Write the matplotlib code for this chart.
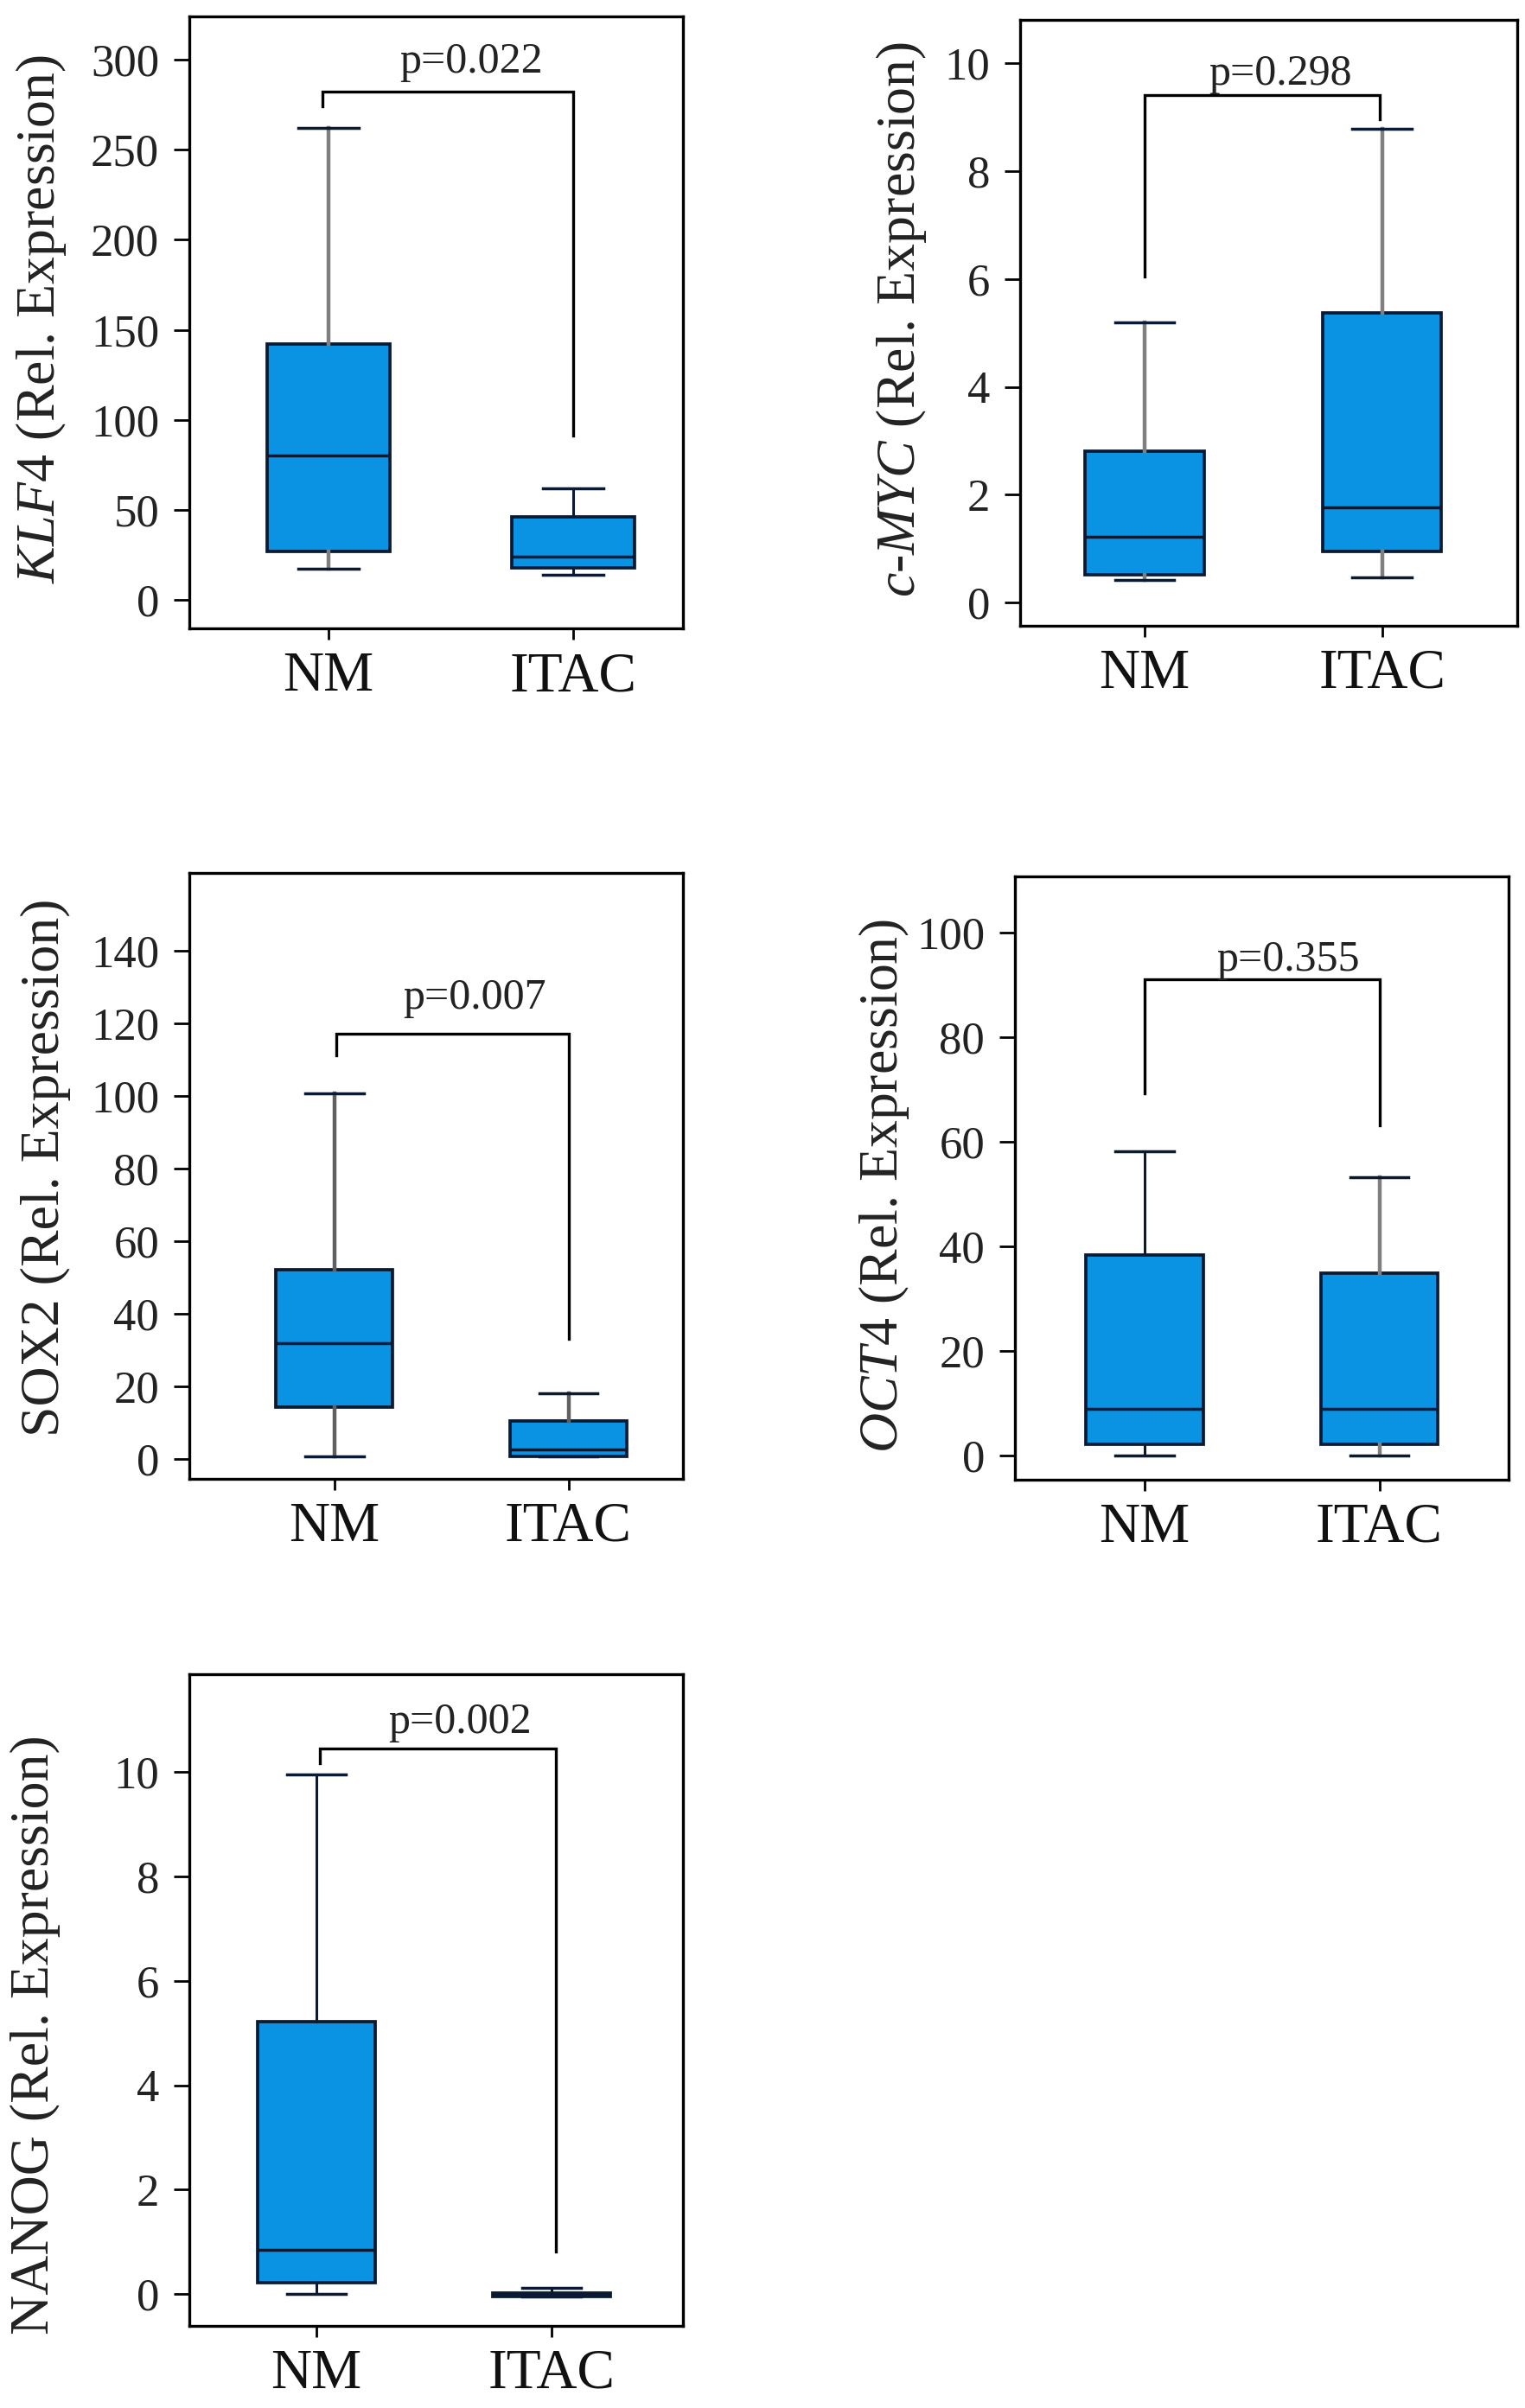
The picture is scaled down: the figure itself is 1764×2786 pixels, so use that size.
import matplotlib
matplotlib.use('Agg')
import matplotlib.pyplot as plt

plt.rcParams['font.family'] = ['Liberation Serif', 'DejaVu Serif']
plt.rcParams['mathtext.fontset'] = 'custom'
plt.rcParams['mathtext.rm'] = 'Liberation Serif'
plt.rcParams['mathtext.it'] = 'Liberation Serif:italic'

groups = ['NM', 'ITAC']

# five-number summaries: [whislo, q1, med, q3, whishi]
klf4_nm = [17, 27, 80, 142, 262]
klf4_itac = [14, 17.5, 24, 46, 62]
cmyc_nm = [0.42, 0.52, 1.22, 2.81, 5.2]
cmyc_itac = [0.47, 0.95, 1.76, 5.37, 8.79]
sox2_nm = [0.6, 14.2, 31.8, 52, 100.5]
sox2_itac = [0.5, 0.6, 2.6, 10.3, 18]
oct4_nm = [0, 2.2, 9.0, 38.4, 58.2]
oct4_itac = [0, 2.2, 9.0, 35.0, 53.2]
nanog_nm = [0, 0.21, 0.84, 5.22, 9.95]
nanog_itac = [-0.04, -0.04, 0.0, 0.02, 0.12]

p_values = ['p=0.022', 'p=0.298', 'p=0.007', 'p=0.355', 'p=0.002']

# bracket: [left leg bottom, top, right leg bottom]
klf4_bracket = [274, 282.5, 91]
cmyc_bracket = [6.04, 9.42, 8.96]
sox2_bracket = [111, 117, 33]
oct4_bracket = [69.2, 91.1, 63.1]
nanog_bracket = [10.17, 10.44, 0.81]

klf4_ticks = [0, 50, 100, 150, 200, 250, 300]
cmyc_ticks = [0, 2, 4, 6, 8, 10]
sox2_ticks = [0, 20, 40, 60, 80, 100, 120, 140]
oct4_ticks = [0, 20, 40, 60, 80, 100]
nanog_ticks = [0, 2, 4, 6, 8, 10]

box_color = '#0a93e2'
edge_color = '#0b1a33'
gray = '#7f7f7f'

panels = [
    dict(nm=klf4_nm, itac=klf4_itac, ticks=klf4_ticks, bracket=klf4_bracket, p=p_values[0],
         label=r'$\mathit{KLF4}$ (Rel. Expression)', rect=[0.124, 0.739, 0.324, 0.2541],
         ylim=(-16, 324), xlim=(0.43, 2.45), lab=(-0.245, 0.506), ptxt=(1.585, 293),
         wcol=[gray, edge_color], bx=[0.976, 2.0]),
    dict(nm=cmyc_nm, itac=cmyc_itac, ticks=cmyc_ticks, bracket=cmyc_bracket, p=p_values[1],
         label=r'$\mathit{c}$-$\mathit{MYC}$ (Rel. Expression)', rect=[0.669, 0.7401, 0.326, 0.2517],
         ylim=(-0.43, 10.81), xlim=(0.476, 2.57), lab=(-0.184, 0.505), ptxt=(1.57, 9.61),
         wcol=[gray, gray], bx=[1.0, 1.99]),
    dict(nm=sox2_nm, itac=sox2_itac, ticks=sox2_ticks, bracket=sox2_bracket, p=p_values[2],
         label='SOX2 (Rel. Expression)', rect=[0.124, 0.3859, 0.324, 0.2517],
         ylim=(-5.55, 161.4), xlim=(0.38, 2.49), lab=(-0.24, 0.513), ptxt=(1.6, 124),
         wcol=['#606060', '#606060'], bx=[1.01, 2.0]),
    dict(nm=oct4_nm, itac=oct4_itac, ticks=oct4_ticks, bracket=oct4_bracket, p=p_values[3],
         label=r'$\mathit{OCT4}$ (Rel. Expression)', rect=[0.6655, 0.3856, 0.3237, 0.2506],
         ylim=(-4.5, 110.8), xlim=(0.448, 2.55), lab=(-0.21, 0.487), ptxt=(1.61, 92.7),
         wcol=[edge_color, gray], bx=[1.0, 2.0]),
    dict(nm=nanog_nm, itac=nanog_itac, ticks=nanog_ticks, bracket=nanog_bracket, p=p_values[4],
         label='NANOG (Rel. Expression)', rect=[0.124, 0.0341, 0.324, 0.2706],
         ylim=(-0.61, 11.87), xlim=(0.459, 2.56), lab=(-0.26, 0.447), ptxt=(1.61, 10.75),
         wcol=[edge_color, edge_color], bx=[1.015, 2.02]),
]

fig = plt.figure(figsize=(17.64, 27.86), dpi=100)

for pn in panels:
    ax = fig.add_axes(pn['rect'])
    stats = []
    for name, v in zip(groups, [pn['nm'], pn['itac']]):
        stats.append(dict(label=name, whislo=v[0], q1=v[1], med=v[2], q3=v[3], whishi=v[4], fliers=[]))
    res = ax.bxp(stats, positions=[1, 2], widths=0.5, capwidths=0.25, patch_artist=True,
                 showfliers=False,
                 boxprops=dict(facecolor=box_color, edgecolor=edge_color, linewidth=2.7),
                 whiskerprops=dict(color=gray, linewidth=3.2),
                 capprops=dict(color=edge_color, linewidth=2.5),
                 medianprops=dict(color=edge_color, linewidth=2.5))
    for i, c in enumerate(pn['wcol']):
        for w in res['whiskers'][2 * i:2 * i + 2]:
            w.set_color(c)
            if c == edge_color:
                w.set_linewidth(2.2)

    b = pn['bracket']
    ax.plot([pn['bx'][0], pn['bx'][0], pn['bx'][1], pn['bx'][1]], [b[0], b[1], b[1], b[2]],
            color='black', linewidth=2.4, solid_joinstyle='miter')
    ax.text(pn['ptxt'][0], pn['ptxt'][1], pn['p'], ha='center', va='baseline',
            fontsize=36, color='#222222')

    ax.set_xlim(pn['xlim'])
    ax.set_ylim(pn['ylim'])
    ax.set_yticks(pn['ticks'])
    ax.set_xticks([1, 2])
    ax.set_xticklabels(groups)
    ax.tick_params(axis='y', direction='out', length=13, width=2, labelsize=38,
                   pad=12, labelcolor='#222222')
    ax.tick_params(axis='x', direction='out', length=9, width=2, labelsize=47,
                   pad=10, labelcolor='#111111')
    for s in ax.spines.values():
        s.set_linewidth(2.4)
    ax.set_ylabel(pn['label'], fontsize=46, color='#222222')
    ax.yaxis.set_label_coords(pn['lab'][0], pn['lab'][1])

fig.savefig('out.png', dpi=100, facecolor='white')
